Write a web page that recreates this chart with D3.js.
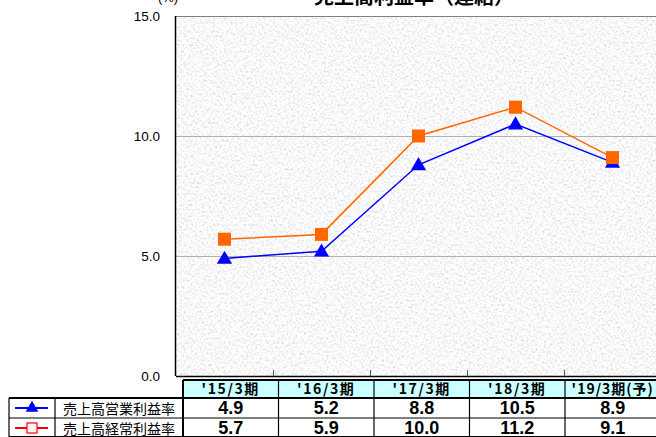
<!DOCTYPE html>
<html><head><meta charset="utf-8">
<script src="https://cdn.jsdelivr.net/npm/d3@7"></script>
<style>
html,body{margin:0;padding:0;background:#fff;overflow:hidden;}
svg{display:block;}
</style></head>
<body>
<svg id="chart" width="656" height="437"></svg>
<script>
const categories = ["'15/3期", "'16/3期", "'17/3期", "'18/3期", "'19/3期(予)"];
const operatingMargin = [4.9, 5.2, 8.8, 10.5, 8.9];
const ordinaryMargin = [5.7, 5.9, 10.0, 11.2, 9.1];
const seriesNames = ["売上高営業利益率", "売上高経常利益率"];
const yTicks = [0, 5, 10, 15];
const title = "売上高利益率（連結）";
const unitLabel = "(%)";

const svg = d3.select("#chart");
const defs = svg.append("defs");
const f = defs.append("filter").attr("id","granite").attr("x",0).attr("y",0).attr("width","100%").attr("height","100%");
f.append("feTurbulence").attr("type","fractalNoise").attr("baseFrequency","0.45").attr("numOctaves",4).attr("seed",7).attr("result","n");
f.append("feColorMatrix").attr("in","n").attr("type","matrix")
 .attr("values","0.7 0 0 0 0.6  0.7 0 0 0 0.6  0.7 0 0 0 0.6  0 0 0 0 1");

const plot = {left:176, right:661, top:16, bottom:376};
const x = d3.scaleBand().domain(categories).range([plot.left, plot.right]);
const y = d3.scaleLinear().domain([0,15]).range([plot.bottom, plot.top]);

// background texture
svg.append("rect").attr("x",plot.left).attr("y",plot.top)
  .attr("width",plot.right-plot.left).attr("height",plot.bottom-plot.top)
  .attr("fill","#ebebeb");
svg.append("rect").attr("x",plot.left).attr("y",plot.top)
  .attr("width",plot.right-plot.left).attr("height",plot.bottom-plot.top)
  .attr("filter","url(#granite)");

// gridlines
svg.append("g").selectAll("line").data(yTicks.filter(d=>d>0 && d<15)).join("line")
  .attr("x1",plot.left).attr("x2",plot.right)
  .attr("y1",d=>y(d)+0.5).attr("y2",d=>y(d)+0.5)
  .attr("stroke","#b0b0b0").attr("stroke-width",1);

// borders
svg.append("line").attr("x1",plot.left).attr("x2",plot.right).attr("y1",plot.top+0.5).attr("y2",plot.top+0.5)
  .attr("stroke","#808080").attr("stroke-width",1.2);
svg.append("line").attr("x1",plot.left-0.5).attr("x2",plot.left-0.5).attr("y1",plot.top).attr("y2",plot.bottom)
  .attr("stroke","#000").attr("stroke-width",1.5);
svg.append("line").attr("x1",plot.left).attr("x2",plot.right).attr("y1",plot.bottom+0.5).attr("y2",plot.bottom+0.5)
  .attr("stroke","#000").attr("stroke-width",1.5);
svg.append("g").selectAll("line").data(categories.slice(1)).join("line")
  .attr("x1",d=>x(d)+0.5).attr("x2",d=>x(d)+0.5)
  .attr("y1",plot.bottom-6).attr("y2",plot.bottom)
  .attr("stroke","#555").attr("stroke-width",1);

// y axis labels
const yAxis = svg.append("g").attr("transform",`translate(${plot.left-13},0)`)
  .call(d3.axisLeft(y).tickValues(yTicks).tickFormat(d3.format(".1f")).tickSize(0));
yAxis.select(".domain").remove();
yAxis.selectAll("text").attr("font-family","'Liberation Sans', Arial, sans-serif")
  .attr("font-size",13.5).attr("fill","#000").attr("dx",0);

// title and unit (partly above the visible area, as in the reference)
svg.append("text").attr("x",414).attr("y",4).attr("text-anchor","middle")
  .attr("font-family","'Noto Sans CJK JP', sans-serif").attr("font-weight","bold").attr("font-size",20)
  .text(title);
svg.append("text").attr("x",168).attr("y",2).attr("text-anchor","middle")
  .attr("font-family","'Liberation Sans', sans-serif").attr("font-size",13)
  .text(unitLabel);

// lines
const cx = d => x(d) + x.bandwidth()/2;
const line = d3.line().x((d,i)=>cx(categories[i])).y(d=>y(d));
svg.append("path").datum(ordinaryMargin).attr("d",line).attr("fill","none")
  .attr("stroke","#FF6600").attr("stroke-width",1.5);
svg.append("path").datum(operatingMargin).attr("d",line).attr("fill","none")
  .attr("stroke","#0000FF").attr("stroke-width",1.5);

// markers
svg.append("g").selectAll("path").data(operatingMargin).join("path")
  .attr("d",d3.symbol().type(d3.symbolTriangle).size(100))
  .attr("transform",(d,i)=>`translate(${cx(categories[i])},${y(d)+1})`)
  .attr("fill","#0000FF");
svg.append("g").selectAll("rect").data(ordinaryMargin).join("rect")
  .attr("x",(d,i)=>cx(categories[i])-6.5).attr("y",d=>y(d)-6.5)
  .attr("width",13).attr("height",13).attr("fill","#FF6600");

// table
const tbl = {left:183, colW:95.5, hTop:380, hBot:398, r1:418, r2:438, legLeft:9, legDiv:55};
const tg = svg.append("g");
const colX = (i)=> tbl.left + i*tbl.colW;
tg.append("rect").attr("x",tbl.left).attr("y",tbl.hTop).attr("width",tbl.colW*categories.length).attr("height",tbl.hBot-tbl.hTop)
  .attr("fill","#CCFFFF");
tg.selectAll("text.h").data(categories).join("text").attr("class","h")
  .attr("x",(d,i)=>colX(i)+tbl.colW/2).attr("y",tbl.hBot-4).attr("text-anchor","middle")
  .attr("font-family","'Noto Sans CJK JP', sans-serif").attr("font-weight","bold").attr("font-size",14)
  .attr("letter-spacing",(d,i)=> i===categories.length-1 ? 1 : 1.6)
  .text(d=>d);
[operatingMargin, ordinaryMargin].forEach((arr,ri)=>{
  const yb = ri===0 ? tbl.r1 : tbl.r2;
  tg.selectAll("text.v"+ri).data(arr).join("text").attr("class","v"+ri)
    .attr("x",(d,i)=>colX(i)+tbl.colW/2).attr("y",yb-4).attr("text-anchor","middle")
    .attr("font-family","'Liberation Sans', Arial, sans-serif").attr("font-weight","bold").attr("font-size",18)
    .text(d=>d.toFixed(1));
});
seriesNames.forEach((s,ri)=>{
  const yb = ri===0 ? tbl.r1 : tbl.r2;
  tg.append("text").attr("x",tbl.legDiv+8).attr("y",yb-4)
    .attr("font-family","'Noto Sans CJK JP', sans-serif").attr("font-size",14).text(s);
});
tg.append("line").attr("x1",15).attr("x2",48).attr("y1",408).attr("y2",408).attr("stroke","#0000FF").attr("stroke-width",2);
tg.append("path").attr("d",d3.symbol().type(d3.symbolTriangle).size(70)).attr("transform","translate(32,408)").attr("fill","#0000FF");
tg.append("line").attr("x1",15).attr("x2",48).attr("y1",428).attr("y2",428).attr("stroke","#FF0000").attr("stroke-width",2);
tg.append("rect").attr("x",27).attr("y",423).attr("width",10).attr("height",10).attr("fill","#fff4f4").attr("stroke","#FF0000").attr("stroke-width",1.2);

const B = "#000";
const hl = (x1,x2,yy,w)=>tg.append("line").attr("x1",x1).attr("x2",x2).attr("y1",yy).attr("y2",yy).attr("stroke",B).attr("stroke-width",w);
const vl = (xx,y1,y2,w)=>tg.append("line").attr("x1",xx).attr("x2",xx).attr("y1",y1).attr("y2",y2).attr("stroke",B).attr("stroke-width",w);
const tRight = colX(categories.length);
hl(tbl.left, tRight, tbl.hTop, 2);
hl(tbl.legLeft, tRight, tbl.hBot, 2);
hl(tbl.legLeft, tRight, tbl.r1, 1.2);
hl(tbl.legLeft, tRight, tbl.r2-1, 2);
vl(tbl.left, tbl.hTop, tbl.r2, 2);
vl(tbl.legLeft, tbl.hBot, tbl.r2, 1.2);
vl(tbl.legDiv, tbl.hBot, tbl.r2, 1.2);
for(let i=1;i<categories.length;i++) vl(colX(i), tbl.hTop, tbl.r2, 1.2);
</script>
</body></html>
